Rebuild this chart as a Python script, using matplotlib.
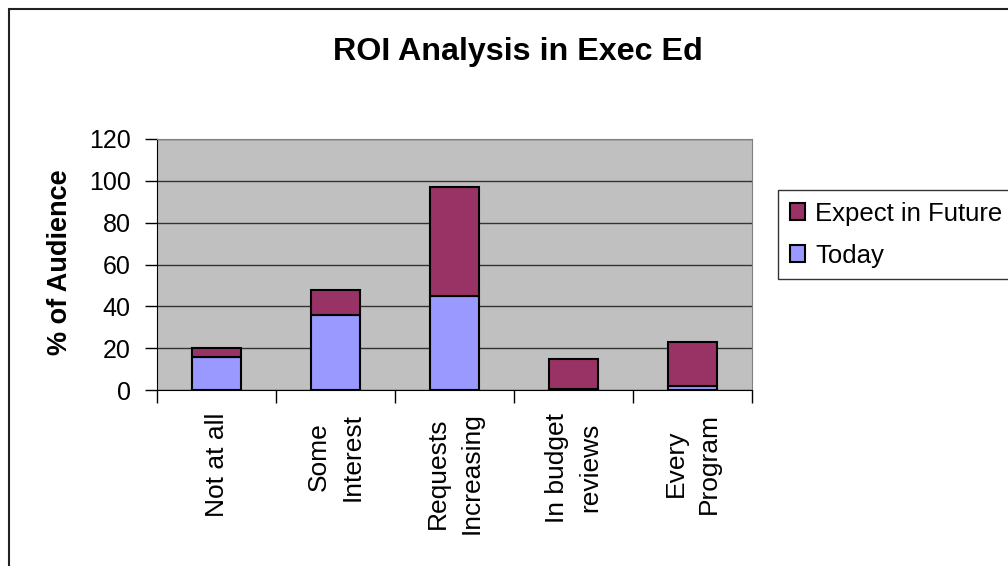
import numpy as np
import matplotlib.pyplot as plt
from matplotlib.patches import Rectangle

categories = ['Not at all', 'Some\nInterest', 'Requests\nIncreasing', 'In budget\nreviews', 'Every\nProgram']
today = [16, 36, 45, 0.5, 2]
future = [4, 12, 52, 14.5, 21]
yticks = [0, 20, 40, 60, 80, 100, 120]

plt.rcParams['font.family'] = ['Liberation Sans', 'DejaVu Sans']

fig = plt.figure(figsize=(10.08, 5.66), dpi=100)
ax = fig.add_axes([157/1008, 1-390/566, (752-157)/1008, (390-139)/566])

x = np.arange(len(categories))
ax.bar(x, today, width=0.41, color='#9999FF', edgecolor='black', linewidth=1.5, label='Today', zorder=3)
ax.bar(x, future, bottom=today, width=0.41, color='#993366', edgecolor='black', linewidth=1.5,
       label='Expect in Future', zorder=3)

ax.set_facecolor('#C0C0C0')
ax.set_xlim(-0.5, len(categories)-0.5)
ax.set_ylim(0, 120)
ax.set_yticks(yticks)
ax.yaxis.grid(True, color='#333333', linewidth=1)
ax.set_axisbelow(True)
ax.set_xticks(np.arange(len(categories)+1)-0.5)
ax.set_xticklabels([])
ax.tick_params(axis='y', labelsize=18, length=9, width=1, direction='out', pad=10)
ax.tick_params(axis='x', length=9, width=1, direction='out')
for s in ['top', 'right']:
    ax.spines[s].set_color('#808080')
for s in ['left', 'bottom']:
    ax.spines[s].set_color('black')

for i, lab in enumerate(categories):
    ax.text(i, -0.09, lab, transform=ax.get_xaxis_transform(), rotation=90, fontsize=19,
            ha='center', va='top', multialignment='center', linespacing=1.5)

ax.set_ylabel('% of Audience', fontsize=19.5, fontweight='bold')
ax.yaxis.set_label_coords(-0.141, 0.51)
fig.text(518/1008, 1-52/566, 'ROI Analysis in Exec Ed', fontsize=23.2, fontweight='bold',
         ha='center', va='center')

h, l = ax.get_legend_handles_labels()
leg = fig.legend(h[::-1], l[::-1], loc='upper left', bbox_to_anchor=(778/1008, 1-190/566),
                 fontsize=18.5, frameon=True, fancybox=False, edgecolor='black',
                 handlelength=0.6, handleheight=0.6, handletextpad=0.4, borderpad=0.45,
                 labelspacing=0.7, borderaxespad=0)
leg.get_frame().set_linewidth(1)

fig.patches.append(Rectangle((9/1008, -0.1), 1.2, 1-9/566+0.1, transform=fig.transFigure,
                             fill=False, edgecolor='#222222', linewidth=1.5))

fig.savefig('out.png', dpi=100)
